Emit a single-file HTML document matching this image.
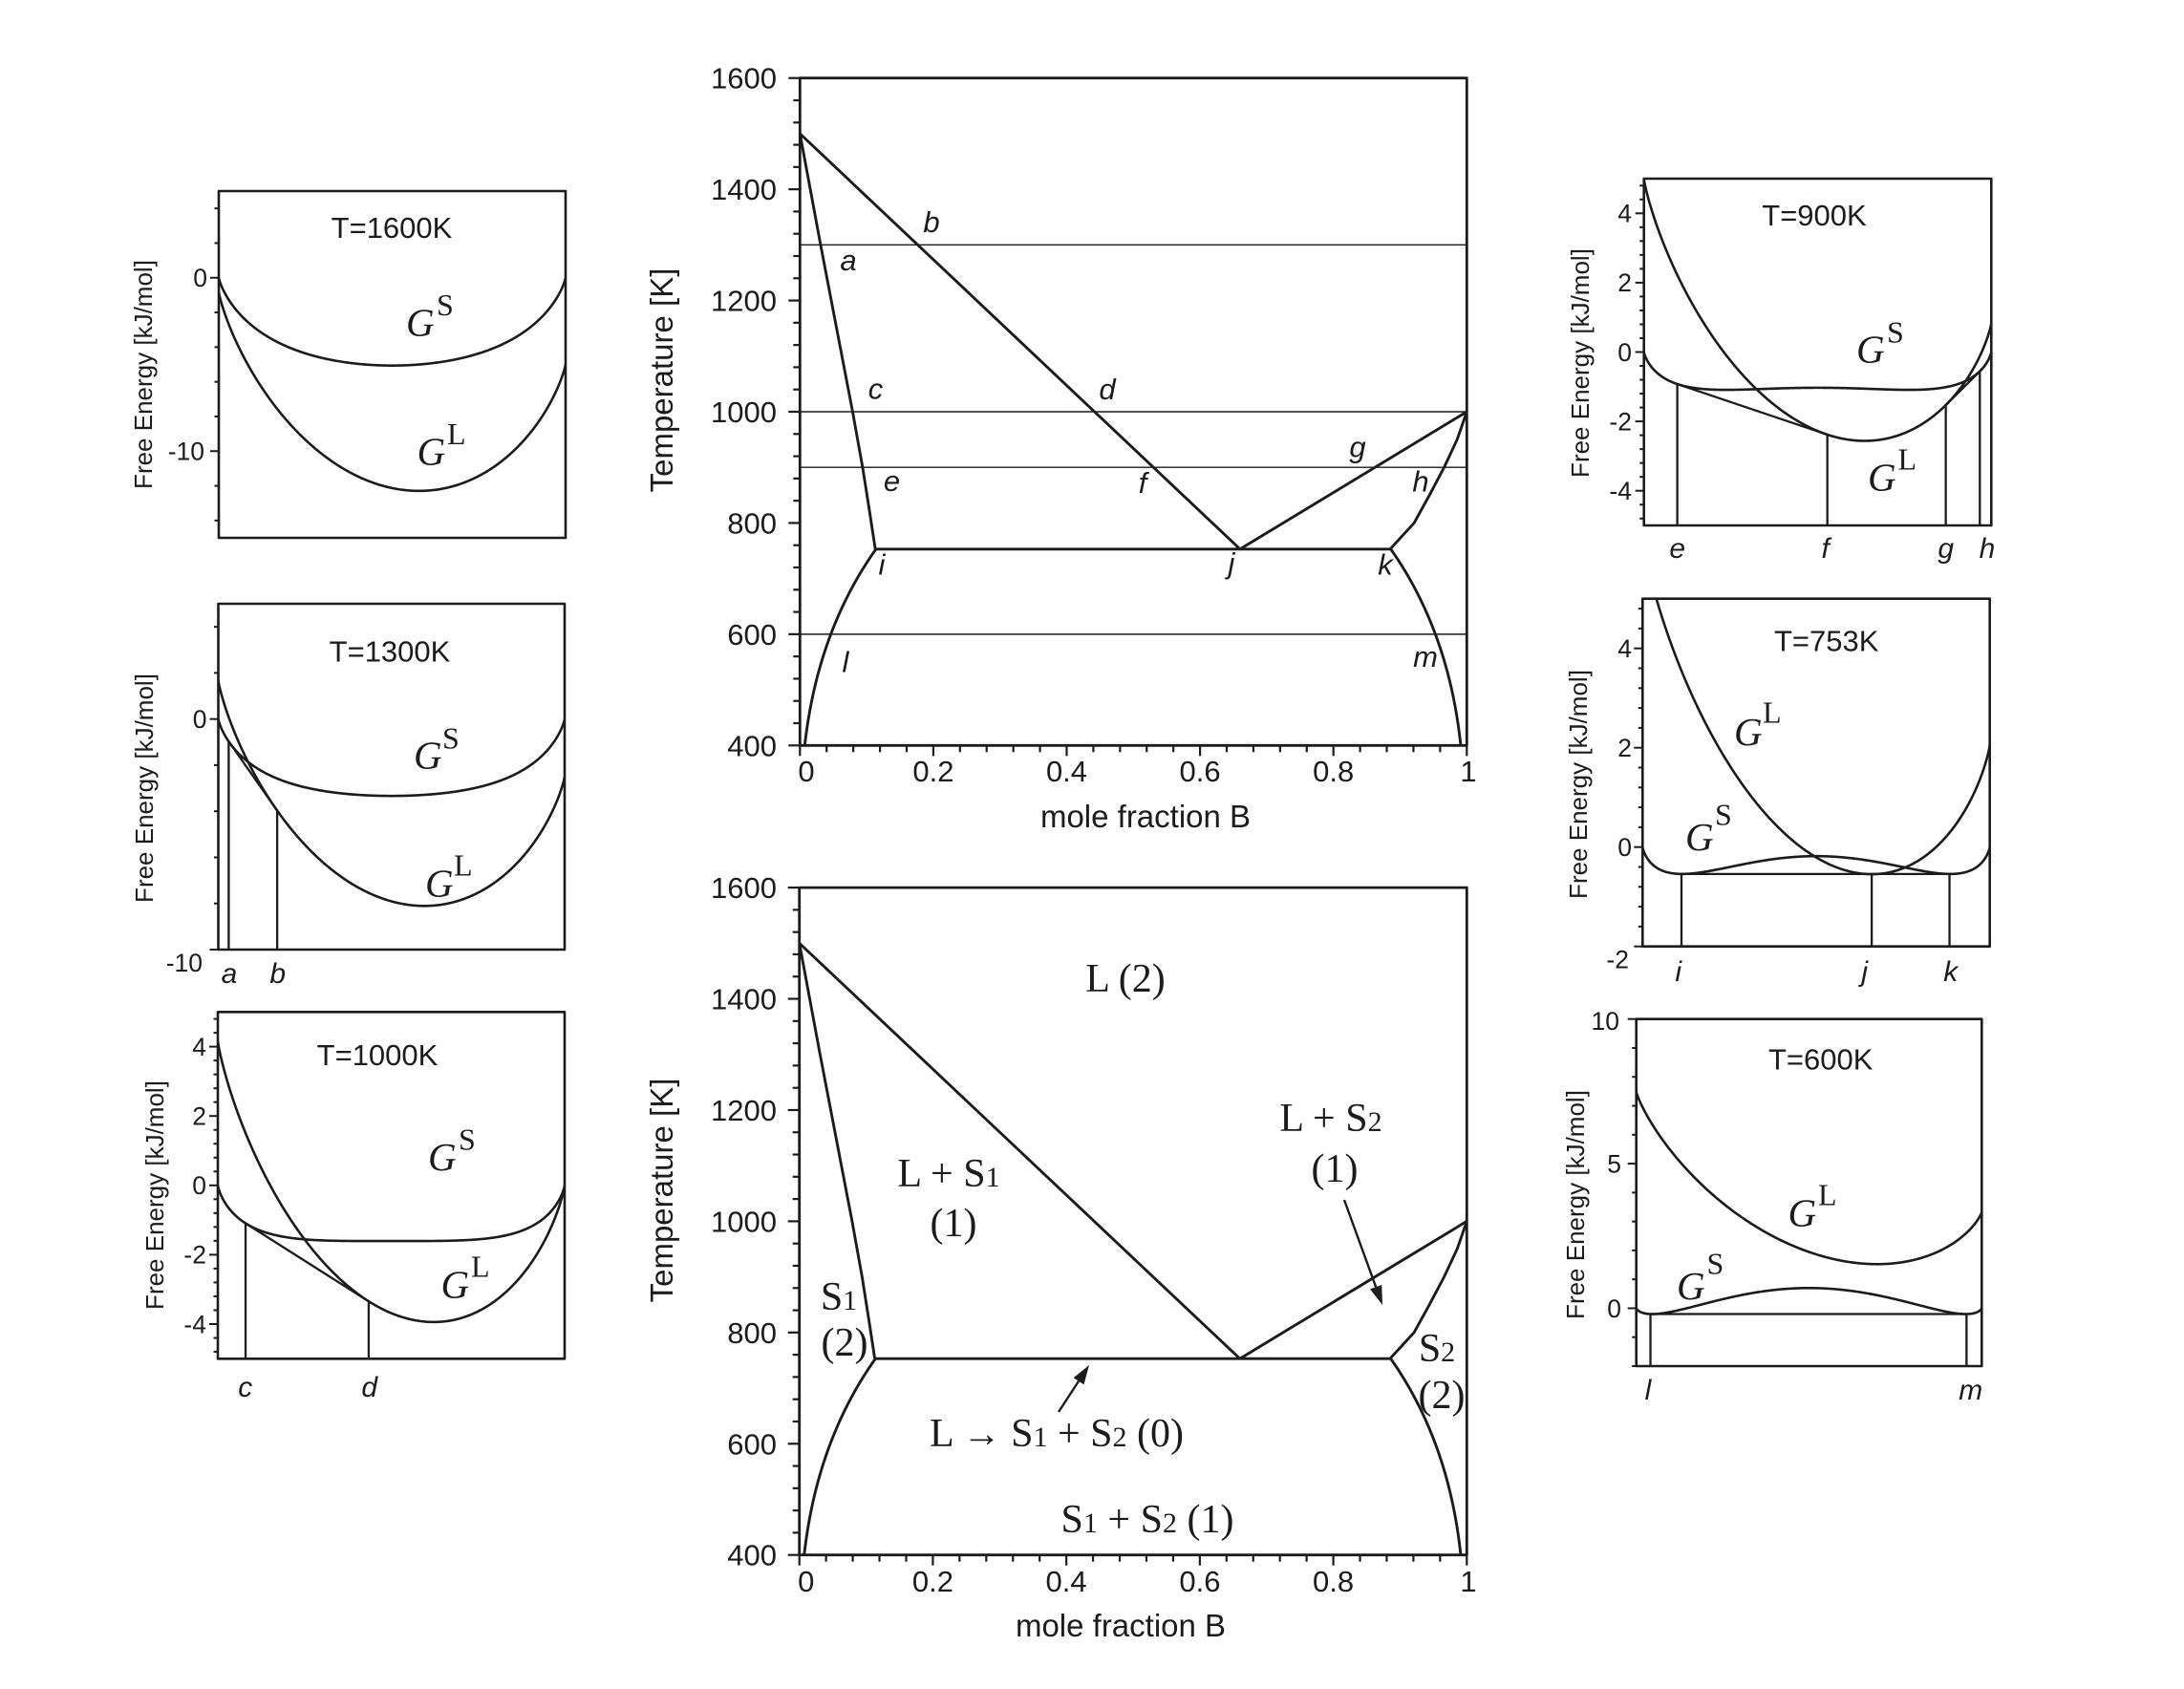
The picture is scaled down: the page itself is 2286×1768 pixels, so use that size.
<!DOCTYPE html>
<html>
<head>
<meta charset="utf-8">
<style>
html,body{margin:0;padding:0;background:#fff;}
svg{display:block;}
.t{font-family:"Liberation Sans",Arial,sans-serif;fill:#1c1c1c;}
.ti{font-family:"Liberation Sans",Arial,sans-serif;font-style:italic;fill:#1c1c1c;}
.s{font-family:"Liberation Serif","Times New Roman",serif;fill:#1c1c1c;}
.gi{font-family:"Liberation Serif","Times New Roman",serif;font-style:italic;fill:#1c1c1c;font-size:41px;}
.sup{font-family:"Liberation Serif","Times New Roman",serif;fill:#1c1c1c;font-size:32px;}
</style>
</head>
<body>
<svg id="c" width="2286" height="1768" viewBox="0 0 2286 1768">
<rect x="0" y="0" width="2286" height="1768" fill="#ffffff"/>
<defs>
<clipPath id="cp0"><rect x="229" y="200" width="363" height="363"/></clipPath>
<clipPath id="cp1"><rect x="228.5" y="632" width="362.5" height="362"/></clipPath>
<clipPath id="cp2"><rect x="228" y="1059.3" width="363" height="363"/></clipPath>
<clipPath id="cp3"><rect x="1720.7" y="187" width="363.6" height="363"/></clipPath>
<clipPath id="cp4"><rect x="1719.3" y="626.7" width="363.4" height="364"/></clipPath>
<clipPath id="cp5"><rect x="1712.7" y="1066.7" width="361.6" height="363.3"/></clipPath>
<clipPath id="mc0"><rect x="837.3" y="81.7" width="698" height="698.6"/></clipPath>
<clipPath id="mc1"><rect x="836.7" y="929.1" width="698.6" height="698.6"/></clipPath>
</defs>

<g id="g" fill="none" stroke="#1c1c1c" stroke-linejoin="round" stroke-linecap="butt"></g>

<!-- ===== Main top chart labels ===== -->
<g class="t" font-size="31" text-anchor="end">
<text x="813" y="92.7">1600</text>
<text x="813" y="209.1">1400</text>
<text x="813" y="325.6">1200</text>
<text x="813" y="442">1000</text>
<text x="813" y="558.4">800</text>
<text x="813" y="674.9">600</text>
<text x="813" y="791.3">400</text>
</g>
<g class="t" font-size="31" text-anchor="middle">
<text x="844" y="818">0</text>
<text x="976.9" y="818">0.2</text>
<text x="1116.5" y="818">0.4</text>
<text x="1256.1" y="818">0.6</text>
<text x="1395.7" y="818">0.8</text>
<text x="1537" y="818">1</text>
</g>
<text class="t" font-size="33" text-anchor="middle" x="1199" y="866">mole fraction B</text>
<text class="t" font-size="33" text-anchor="middle" x="704" y="398" transform="rotate(-90 704 398)">Temperature [K]</text>

<g class="ti" font-size="31" text-anchor="middle">
<text x="888" y="283">a</text>
<text x="975" y="243">b</text>
<text x="916.5" y="417.5">c</text>
<text x="1159" y="418">d</text>
<text x="933.5" y="514">e</text>
<text x="1196" y="516">f</text>
<text x="1421" y="478.5">g</text>
<text x="1487" y="514.5">h</text>
<text x="923" y="601.7">i</text>
<text x="1289" y="600">j</text>
<text x="1450" y="601.7">k</text>
<text x="885" y="703.5">l</text>
<text x="1492" y="698">m</text>
</g>

<!-- ===== Main bottom chart labels ===== -->
<g class="t" font-size="31" text-anchor="end">
<text x="813" y="940.1">1600</text>
<text x="813" y="1056.5">1400</text>
<text x="813" y="1173">1200</text>
<text x="813" y="1289.4">1000</text>
<text x="813" y="1405.8">800</text>
<text x="813" y="1522.3">600</text>
<text x="813" y="1638.7">400</text>
</g>
<g class="t" font-size="31" text-anchor="middle">
<text x="843.7" y="1666">0</text>
<text x="976.4" y="1666">0.2</text>
<text x="1116.1" y="1666">0.4</text>
<text x="1255.9" y="1666">0.6</text>
<text x="1395.6" y="1666">0.8</text>
<text x="1537" y="1666">1</text>
</g>
<text class="t" font-size="33" text-anchor="middle" x="1173" y="1713">mole fraction B</text>
<text class="t" font-size="33" text-anchor="middle" x="704" y="1246" transform="rotate(-90 704 1246)">Temperature [K]</text>

<g class="s" font-size="42" text-anchor="middle">
<text x="1178" y="1038">L (2)</text>
<text x="993" y="1242">L + S<tspan font-size="30">1</tspan></text>
<text x="998" y="1294">(1)</text>
<text x="1393" y="1184">L + S<tspan font-size="30">2</tspan></text>
<text x="1397" y="1237">(1)</text>
<text x="878" y="1371">S<tspan font-size="30">1</tspan></text>
<text x="884" y="1419">(2)</text>
<text x="1504" y="1425">S<tspan font-size="30">2</tspan></text>
<text x="1509" y="1474">(2)</text>
<text x="1106" y="1514">L <tspan font-size="40">→</tspan> S<tspan font-size="30">1</tspan> + S<tspan font-size="30">2</tspan> (0)</text>
<text x="1201" y="1604">S<tspan font-size="30">1</tspan> + S<tspan font-size="30">2</tspan> (1)</text>
</g>

<!-- ===== Panel texts ===== -->
<g class="t" font-size="31" text-anchor="middle">
<text x="410" y="249">T=1600K</text>
<text x="408" y="692.7">T=1300K</text>
<text x="395" y="1115">T=1000K</text>
<text x="1899" y="236">T=900K</text>
<text x="1911.7" y="681.7">T=753K</text>
<text x="1905.7" y="1119.3">T=600K</text>
</g>

<g class="t" font-size="26" text-anchor="middle">
<text x="159" y="392" transform="rotate(-90 159 392)">Free Energy [kJ/mol]</text>
<text x="160" y="825" transform="rotate(-90 160 825)">Free Energy [kJ/mol]</text>
<text x="171" y="1251" transform="rotate(-90 171 1251)">Free Energy [kJ/mol]</text>
<text x="1663" y="380" transform="rotate(-90 1663 380)">Free Energy [kJ/mol]</text>
<text x="1661" y="821" transform="rotate(-90 1661 821)">Free Energy [kJ/mol]</text>
<text x="1658" y="1261" transform="rotate(-90 1658 1261)">Free Energy [kJ/mol]</text>
</g>

<g class="t" font-size="26.5" text-anchor="end">
<text x="217" y="300">0</text>
<text x="214" y="481.5">-10</text>

<text x="216.5" y="762">0</text>
<text x="212" y="1017">-10</text>

<text x="216" y="1104.9">4</text>
<text x="216" y="1177.5">2</text>
<text x="216" y="1250.1">0</text>
<text x="216" y="1322.7">-2</text>
<text x="216" y="1395.3">-4</text>

<text x="1708" y="232.6">4</text>
<text x="1708" y="305.2">2</text>
<text x="1708" y="377.8">0</text>
<text x="1708" y="450.4">-2</text>
<text x="1708" y="523">-4</text>

<text x="1708" y="688">4</text>
<text x="1708" y="792">2</text>
<text x="1708" y="896">0</text>
<text x="1705" y="1013.3">-2</text>

<text x="1695" y="1078">10</text>
<text x="1697" y="1227.4">5</text>
<text x="1697" y="1378.8">0</text>
</g>

<g class="ti" font-size="30" text-anchor="middle">
<text x="240" y="1029">a</text>
<text x="290.7" y="1029">b</text>
<text x="256.7" y="1462">c</text>
<text x="386.7" y="1462">d</text>
<text x="1755.7" y="584">e</text>
<text x="1910.7" y="584">f</text>
<text x="2036.7" y="584">g</text>
<text x="2080" y="584">h</text>
<text x="1756.7" y="1027">i</text>
<text x="1951.7" y="1027">j</text>
<text x="2041.7" y="1027">k</text>
<text x="1725" y="1465">l</text>
<text x="2062.7" y="1465">m</text>
</g>

<!-- G labels -->
<text class="gi" x="425" y="351.7">G</text><text class="sup" x="457" y="330">S</text>
<text class="gi" x="436.5" y="486.7">G</text><text class="sup" x="468" y="465">L</text>

<text class="gi" x="433" y="804.3">G</text><text class="sup" x="463" y="783.3">S</text>
<text class="gi" x="445" y="938.3">G</text><text class="sup" x="475" y="916.7">L</text>

<text class="gi" x="448" y="1225">G</text><text class="sup" x="480" y="1203.3">S</text>
<text class="gi" x="461.5" y="1358.3">G</text><text class="sup" x="493" y="1336.7">L</text>

<text class="gi" x="1943" y="379.3">G</text><text class="sup" x="1975" y="358.3">S</text>
<text class="gi" x="1955" y="513.3">G</text><text class="sup" x="1986.5" y="491.7">L</text>

<text class="gi" x="1815" y="780">G</text><text class="sup" x="1845" y="756.7">L</text>
<text class="gi" x="1764" y="890">G</text><text class="sup" x="1795" y="863.3">S</text>

<text class="gi" x="1871.5" y="1283.3">G</text><text class="sup" x="1903" y="1261.7">L</text>
<text class="gi" x="1755" y="1360">G</text><text class="sup" x="1786.5" y="1333.3">S</text>
</svg>

<script>
(function(){
var R=0.008314, W=2000*R;
function mix(x,T){var s=0;if(x>0)s+=x*Math.log(x);if(x<1)s+=(1-x)*Math.log(1-x);return R*T*s;}
function GS(x,T){return mix(x,T)+W*x*(1-x);}
function GL(x,T){return R*((1-x)*(1500-T)+x*(1000-T))+mix(x,T);}
var out='';
function P(pts,sw){
  var d='M'+pts.map(function(p){return p[0].toFixed(2)+' '+p[1].toFixed(2);}).join('L');
  out+='<path d="'+d+'" stroke-width="'+sw+'"/>';
}
function L(x1,y1,x2,y2,sw){out+='<line x1="'+x1.toFixed(2)+'" y1="'+y1.toFixed(2)+'" x2="'+x2.toFixed(2)+'" y2="'+y2.toFixed(2)+'" stroke-width="'+sw+'"/>';}

/* ---------- Free energy panels ---------- */
var panels=[
 {x0:229,y0:200,w:363,h:363,min:-15,max:5,T:1600,step:2,tmin:-14,tmax:4,maj:[0,-10],cons:[]},
 {x0:228.5,y0:632,w:362.5,h:362,min:-10,max:5,T:1300,step:2,tmin:-10,tmax:4,maj:[0,-10],cons:[['S',0.030,'L',0.170]]},
 {x0:228,y0:1059.3,w:363,h:363,min:-5,max:5,T:1000,step:0.4,tmin:-4.8,tmax:4.8,maj:[-4,-2,0,2,4],cons:[['S',0.080,'L',0.435]]},
 {x0:1720.7,y0:187,w:363.6,h:363,min:-5,max:5,T:900,step:0.4,tmin:-4.8,tmax:4.8,maj:[-4,-2,0,2,4],cons:[['S',0.096,'L',0.528],['L',0.869,'S',0.967]]},
 {x0:1719.3,y0:626.7,w:363.4,h:364,min:-2,max:5,T:753,step:0.4,tmin:-2,tmax:4.8,maj:[-2,0,2,4],cons:[['S',0.112,'S',0.884,0.660]]},
 {x0:1712.7,y0:1066.7,w:361.6,h:363.3,min:-2,max:10,T:600,step:1,tmin:-2,tmax:10,maj:[0,5,10],cons:[['S',0.041,'S',0.956]]}
];
panels.forEach(function(p,i){
  var X=function(x){return p.x0+x*p.w;}, Y=function(v){return p.y0+(p.max-v)/(p.max-p.min)*p.h;};
  out+='<g clip-path="url(#cp'+i+')">';
  [GS,GL].forEach(function(f){
    var pts=[];
    for(var k=0;k<=700;k++){var t=k/700;var x=0.5-0.5*Math.cos(Math.PI*t);pts.push([X(x),Y(f(x,p.T))]);}
    P(pts,2.6);
  });
  out+='</g>';
  var bottom=p.y0+p.h;
  p.cons.forEach(function(c){
    var f1=c[0]=='S'?GS:GL, f2=c[2]=='S'?GS:GL;
    var x1=c[1],x2=c[3],g1=f1(x1,p.T),g2=f2(x2,p.T);
    L(X(x1),Y(g1),X(x2),Y(g2),2.3);
    L(X(x1),Y(g1),X(x1),bottom,2.3);
    L(X(x2),Y(g2),X(x2),bottom,2.3);
    if(c[4]!==undefined){var xm=c[4];var gm=g1+(g2-g1)*(xm-x1)/(x2-x1);L(X(xm),Y(gm),X(xm),bottom,2.3);}
  });
  var n=Math.round((p.tmax-p.tmin)/p.step);
  for(var k=0;k<=n;k++){
    var v=Math.round((p.tmin+k*p.step)*10)/10;
    var maj=p.maj.some(function(m){return Math.abs(m-v)<1e-6;});
    var y=Y(v);
    L(p.x0-(maj?9:4.5),y,p.x0,y,2);
  }
  out+='<rect x="'+p.x0+'" y="'+p.y0+'" width="'+p.w+'" height="'+p.h+'" stroke-width="2.6"/>';
});

/* ---------- Phase diagrams ---------- */
function solvus(){
  var pts=[];
  for(var k=0;k<=240;k++){
    var x=0.114-(0.114-0.0055)*k/240;
    var T=2000*(1-2*x)/Math.log((1-x)/x);
    pts.push([x,T]);
  }
  return pts;
}
function mainChart(x0,y0,w,h,guides,id){
  var X=function(x){return x0+x*w;}, Y=function(T){return y0+(1600-T)/1200*h;};
  var M=function(arr){return arr.map(function(p){return [X(p[0]),Y(p[1])];});};
  if(guides){[1300,1000,900,600].forEach(function(T){L(x0,Y(T),x0+w,Y(T),1.4);});}
  out+='<g clip-path="url(#'+id+')">';
  var sw=2.9;
  P(M([[0,1500],[0.66,753],[1,1000]]),sw);
  P(M([[0,1500],[0.031,1300],[0.079,1000],[0.094,900],[0.1045,820],[0.113,753]]),sw);
  P(M([[0.113,753],[0.885,753]]),sw);
  P(M([[1,1000],[0.9855,950],[0.966,900],[0.944,850],[0.921,800],[0.885,753]]),sw);
  var s=solvus();
  P(M([[0.113,753]].concat(s)),sw);
  P(M([[0.885,753]].concat(s.map(function(p){return [1-p[0]-0.002*(1-p[1]/753)*2,p[1]];}))),sw);
  out+='</g>';
  for(var T=400;T<=1600;T+=40){var maj=(T%200==0);L(x0-(maj?12:7),Y(T),x0,Y(T),2.2);}
  for(var k=0;k<=25;k++){var maj2=(k%5==0);var xx=X(k*0.04);L(xx,y0+h,xx,y0+h+(maj2?11:7),2.2);}
  out+='<rect x="'+x0+'" y="'+y0+'" width="'+w+'" height="'+h+'" stroke-width="2.8"/>';
}
mainChart(837.3,81.7,698,698.6,true,'mc0');
mainChart(836.7,929.1,698.6,698.6,false,'mc1');

function arrow(x1,y1,x2,y2){
  var a=Math.atan2(y2-y1,x2-x1),l=20,hw=6.5;
  var bx=x2-l*Math.cos(a),by=y2-l*Math.sin(a);
  L(x1,y1,bx,by,2.4);
  var px=-Math.sin(a)*hw,py=Math.cos(a)*hw;
  out+='<polygon points="'+x2+','+y2+' '+(bx+px).toFixed(2)+','+(by+py).toFixed(2)+' '+(bx-px).toFixed(2)+','+(by-py).toFixed(2)+'" fill="#1c1c1c" stroke="none"/>';
}
arrow(1407,1256,1447,1366);
arrow(1108,1478,1140,1429);

document.getElementById('g').innerHTML=out;
})();
</script>
</body>
</html>
